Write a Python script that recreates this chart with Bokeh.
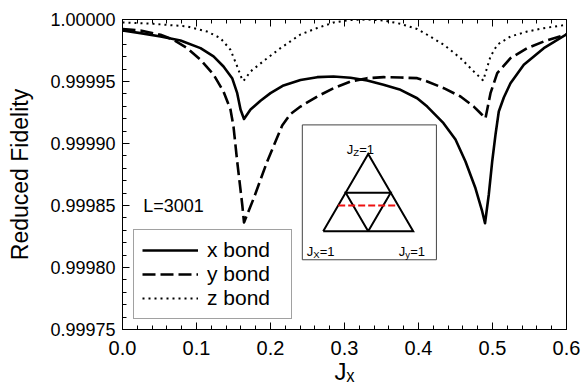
from bokeh.plotting import figure
from bokeh.models import (Range1d, LinearAxis, FixedTicker, PrintfTickFormatter,
                          Legend, LegendItem, Label)
from bokeh.embed import file_html
from bokeh.resources import INLINE
from bokeh.core.properties import value

FONT = "Liberation Sans"

# ---------------- data ----------------
x_bond_jx = [0.000, 0.0243, 0.0514, 0.0784, 0.1054, 0.1230, 0.1365, 0.1482, 0.1550, 0.1595,
             0.1642, 0.1730, 0.1865, 0.2000, 0.2176, 0.2405, 0.2631, 0.2851, 0.3081, 0.3307,
             0.3527, 0.3757, 0.3982, 0.4118, 0.4338, 0.4500, 0.4635, 0.4770, 0.4861, 0.4899,
             0.4950, 0.4996, 0.5041, 0.5085, 0.5153, 0.5243, 0.5423, 0.5693, 0.6000]
x_bond_f = [0.9999911, 0.9999890, 0.9999863, 0.9999831, 0.9999769, 0.9999702, 0.9999621,
            0.9999527, 0.9999406, 0.9999274, 0.9999198, 0.9999274, 0.9999345, 0.9999406,
            0.9999468, 0.9999512, 0.9999535, 0.9999540, 0.9999530, 0.9999508, 0.9999473,
            0.9999433, 0.9999365, 0.9999298, 0.9999164, 0.9999032, 0.9998855, 0.9998639,
            0.9998452, 0.9998357, 0.9998589, 0.9998855, 0.9999073, 0.9999258, 0.9999371,
            0.9999486, 0.9999635, 0.9999769, 0.9999880]

y_bond_jx = [0.000, 0.0243, 0.0514, 0.0689, 0.0874, 0.1054, 0.1230, 0.1365, 0.1459, 0.1500,
             0.1550, 0.1618, 0.1642, 0.1774, 0.1955, 0.2158, 0.2270, 0.2405, 0.2631, 0.2855,
             0.3081, 0.3307, 0.3531, 0.3757, 0.3982, 0.4118, 0.4342, 0.4568, 0.4747, 0.4838,
             0.4905, 0.4973, 0.5064, 0.5243, 0.5469, 0.5693, 0.6000]
y_bond_f = [0.9999923, 0.9999911, 0.9999877, 0.9999836, 0.9999769, 0.9999675, 0.9999556,
            0.9999419, 0.9999274, 0.9999137, 0.9998855, 0.9998508, 0.9998363, 0.9998559,
            0.9998855, 0.9999145, 0.9999238, 0.9999298, 0.9999379, 0.9999446, 0.9999500,
            0.9999527, 0.9999535, 0.9999532, 0.9999527, 0.9999500, 0.9999446, 0.9999379,
            0.9999298, 0.9999244, 0.9999202, 0.9999406, 0.9999567, 0.9999688, 0.9999769,
            0.9999823, 0.9999880]

z_bond_jx = [0.000, 0.0419, 0.0874, 0.1145, 0.1324, 0.1459, 0.1550, 0.1618, 0.1635, 0.1730,
             0.1932, 0.2135, 0.2405, 0.2631, 0.2855, 0.3081, 0.3307, 0.3531, 0.3757, 0.3982,
             0.4118, 0.4342, 0.4568, 0.4747, 0.4874, 0.4973, 0.5064, 0.5243, 0.5469, 0.5693,
             0.6000]
z_bond_f = [0.9999976, 0.9999965, 0.9999944, 0.9999903, 0.9999849, 0.9999756, 0.9999621,
            0.9999514, 0.9999504, 0.9999581, 0.9999677, 0.9999769, 0.9999879, 0.9999931,
            0.9999976, 0.9999996, 1.0000000, 0.9999992, 0.9999965, 0.9999923, 0.9999877,
            0.9999796, 0.9999688, 0.9999581, 0.9999508, 0.9999702, 0.9999796, 0.9999863,
            0.9999903, 0.9999930, 0.9999957]

series_labels = ["x bond", "y bond", "z bond"]
x_title = "J\u2093"
y_title = "Reduced Fidelity"
x_ticks = [0.0, 0.1, 0.2, 0.3, 0.4, 0.5, 0.6]
x_minor = [round(i * 0.02, 2) for i in range(31)]
y_ticks = [0.99975, 0.99980, 0.99985, 0.99990, 0.99995, 1.00000]
y_minor = [round(0.99975 + i * 0.00001, 5) for i in range(26)]
size_label = "L=3001"
jz_line = 1.0 / 3.0   # the red cut in the inset: Jz = 1/3

# ---------------- figure ----------------
p = figure(width=587, height=390, x_range=Range1d(0, 0.6), y_range=Range1d(0.99975, 1.0),
           output_backend="svg", toolbar_location=None,
           min_border_left=122, min_border_right=21, min_border_top=19, min_border_bottom=61,
           background_fill_color="white", border_fill_color="white")
p.grid.visible = False
p.outline_line_color = "black"
p.outline_line_width = 1

def style_axis(ax, ticks, minor, fmt, size, standoff):
    ax.ticker = FixedTicker(ticks=ticks, minor_ticks=minor)
    ax.formatter = PrintfTickFormatter(format=fmt)
    ax.major_tick_in = 7
    ax.major_tick_out = 0
    ax.minor_tick_in = 4
    ax.minor_tick_out = 0
    ax.axis_line_color = "black"
    ax.major_tick_line_color = "black"
    ax.minor_tick_line_color = "black"
    ax.major_label_text_font = FONT
    ax.major_label_text_font_size = size
    ax.major_label_text_color = "black"
    ax.major_label_standoff = standoff

xa = p.xaxis[0]
style_axis(xa, x_ticks, x_minor, "%.1f", "20px", 11)
xa.axis_label = x_title
xa.axis_label_text_font = FONT
xa.axis_label_text_font_size = "24px"
xa.axis_label_text_font_style = "normal"
xa.axis_label_text_color = "black"
xa.axis_label_standoff = 0

ya = p.yaxis[0]
style_axis(ya, y_ticks, y_minor, "%.5f", "18px", 7)
ya.axis_label = y_title
ya.axis_label_text_font = FONT
ya.axis_label_text_font_size = "23px"
ya.axis_label_text_font_style = "normal"
ya.axis_label_text_color = "black"
ya.axis_label_standoff = 14

top = LinearAxis()
style_axis(top, x_ticks, x_minor, "%.1f", "0px", 0)
top.major_label_text_alpha = 0
p.add_layout(top, "above")

# ---------------- curves ----------------
r_x = p.line(x_bond_jx, x_bond_f, line_color="black", line_width=2.6, line_join="round")
r_y = p.line(y_bond_jx, y_bond_f, line_color="black", line_width=2.6, line_dash="13 5",
             line_join="round")
r_z = p.line(z_bond_jx, z_bond_f, line_color="black", line_width=2, line_dash="2 4")

legend = Legend(items=[LegendItem(label=series_labels[0], renderers=[r_x]),
                       LegendItem(label=series_labels[1], renderers=[r_y]),
                       LegendItem(label=series_labels[2], renderers=[r_z])],
                location=(11, 10), orientation="vertical",
                label_text_font=FONT, label_text_font_size="21px", label_text_color="black",
                glyph_width=56, glyph_height=24, label_height=24, label_width=76,
                label_standoff=9, spacing=0, padding=8, margin=0,
                border_line_color="#444444", border_line_width=1,
                background_fill_color="white", background_fill_alpha=1)
p.add_layout(legend)

p.add_layout(Label(x=0.028, y=0.99985, text=size_label, text_font=FONT,
                   text_font_size="18px", text_color="black", text_baseline="middle"))

# ---------------- inset (frame-fraction coordinates) ----------------
p.extra_x_ranges = {"fx": Range1d(0, 1)}
p.extra_y_ranges = {"fy": Range1d(0, 1)}
box_l, box_r, box_b, box_t = 0.405, 0.707, 0.225, 0.660
p.quad(left=[box_l], right=[box_r], bottom=[box_b], top=[box_t],
       fill_color="white", line_color="#444444", line_width=1,
       x_range_name="fx", y_range_name="fy")

apex = (0.5534, 0.566)   # Jz = 1
cx = (0.452, 0.317)      # Jx = 1
cy = (0.6547, 0.317)     # Jy = 1

def bary(jx, jy, jz):
    return (jx * cx[0] + jy * cy[0] + jz * apex[0], jx * cx[1] + jy * cy[1] + jz * apex[1])

outer = [bary(1, 0, 0), bary(0, 1, 0), bary(0, 0, 1), bary(1, 0, 0)]
inner = [bary(0.5, 0.5, 0), bary(0, 0.5, 0.5), bary(0.5, 0, 0.5), bary(0.5, 0.5, 0)]
p.line([q[0] for q in outer], [q[1] for q in outer], line_color="black", line_width=2,
       line_join="miter", x_range_name="fx", y_range_name="fy")
p.line([q[0] for q in inner], [q[1] for q in inner], line_color="black", line_width=2,
       line_join="miter", x_range_name="fx", y_range_name="fy")
cut = [bary(1 - jz_line, 0, jz_line), bary(0, 1 - jz_line, jz_line)]
p.line([q[0] for q in cut], [q[1] for q in cut], line_color="#ee1111", line_width=2,
       line_dash="7 3", x_range_name="fx", y_range_name="fy")

def jlabel(x, y, sub, sub_w):
    kw = dict(x_range_name="fx", y_range_name="fy", text_color="black",
              text_baseline="alphabetic", text_align="left", text_font=value(FONT))
    p.text(x=[x], y=[y], text=["J"], text_font_size="13px", **kw)
    p.text(x=[x], y=[y], text=[sub], text_font_size="9.5px", x_offset=6.5, y_offset=3, **kw)
    p.text(x=[x], y=[y], text=["=1"], text_font_size="13px", x_offset=6.5 + sub_w, **kw)

jlabel(0.505, 0.582, "Z", 6.0)
jlabel(0.415, 0.253, "X", 6.5)
jlabel(0.622, 0.253, "y", 5.0)

open("out.html", "w").write(file_html(p, INLINE))
